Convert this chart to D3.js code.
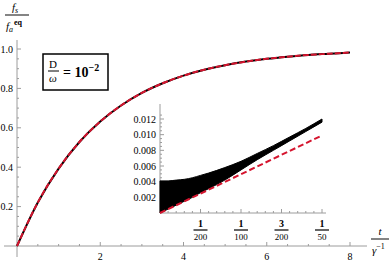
<!DOCTYPE html>
<html>
<head>
<meta charset="utf-8">
<script src="https://cdn.jsdelivr.net/npm/d3@7"></script>
<style>
  body { margin: 0; background: #fff; }
  svg { display: block; font-family: "Liberation Serif", "DejaVu Serif", serif; }
</style>
</head>
<body>
<svg id="chart" width="390" height="265"></svg>
<script>
// hlavni krivka f_s / f_a^eq
var casy = [0, 0.5, 1, 1.5, 2, 2.5, 3, 3.5, 4, 4.5, 5, 5.5, 6, 6.5, 7, 7.5, 8]
var hodnoty = [0, 0.221, 0.393, 0.528, 0.632, 0.713, 0.777, 0.826, 0.865, 0.895, 0.918, 0.936, 0.950, 0.961, 0.970, 0.976, 0.982]
var xTicks = [2, 4, 6, 8]
var yTicks = [0.2, 0.4, 0.6, 0.8, 1.0]

// vlozeny graf - obalka oscilaci a primka
var casyVl = [0, 0.001, 0.002, 0.003, 0.004, 0.005, 0.006, 0.008, 0.010, 0.012, 0.014, 0.016, 0.018, 0.020]
var horni = [0.0041, 0.0041, 0.0042, 0.0043, 0.0045, 0.0048, 0.0051, 0.0058, 0.0066, 0.0076, 0.0086, 0.0097, 0.0108, 0.0120]
var dolni = [0, 0.0005, 0.0010, 0.0015, 0.0020, 0.0026, 0.0031, 0.0042, 0.0055, 0.0068, 0.0080, 0.0092, 0.0104, 0.0116]
var primkaT = [0, 0.020]
var primkaY = [0, 0.0099]
var xTicksVl = [0.005, 0.01, 0.015, 0.02]
var xLabelsVl = [["1", "200"], ["1", "100"], ["3", "200"], ["1", "50"]]
var yTicksVl = [0.002, 0.004, 0.006, 0.008, 0.010, 0.012]

var cervena = "#d5142e"
var osa = "#9c9c9c"
var svg = d3.select("#chart")

var x = d3.scaleLinear().domain([0, 8]).range([17, 350])
var y = d3.scaleLinear().domain([0, 1]).range([246, 49])

// osy
svg.append("line").attr("x1", 4).attr("x2", 367).attr("y1", y(0)).attr("y2", y(0)).attr("stroke", osa)
svg.append("line").attr("x1", x(0)).attr("x2", x(0)).attr("y1", 257).attr("y2", 40).attr("stroke", osa)

// minor ticks
var g = svg.append("g")
d3.range(0.5, 8.01, 0.5).forEach(function(d) {
  var maj = xTicks.indexOf(d) >= 0
  g.append("line").attr("x1", x(d)).attr("x2", x(d)).attr("y1", y(0)).attr("y2", y(0) - (maj ? 4 : 2)).attr("stroke", osa)
})
d3.range(0.05, 1.001, 0.05).forEach(function(d) {
  var maj = yTicks.some(function(t) { return Math.abs(t - d) < 1e-6 })
  g.append("line").attr("x1", x(0)).attr("x2", x(0) + (maj ? 4 : 2)).attr("y1", y(d)).attr("y2", y(d)).attr("stroke", osa)
})
svg.selectAll("text.xt").data(xTicks).enter().append("text")
  .attr("x", function(d) { return x(d) }).attr("y", 260)
  .attr("text-anchor", "middle").attr("font-size", 10).text(function(d) { return d })
svg.selectAll("text.yt").data(yTicks).enter().append("text")
  .attr("x", 13).attr("y", function(d) { return y(d) + 3.5 })
  .attr("text-anchor", "end").attr("font-size", 10).text(function(d) { return d.toFixed(1) })

// popisky os
var lx = svg.append("g")
lx.append("text").attr("x", 380).attr("y", 235).attr("text-anchor", "middle").attr("font-size", 11).attr("font-style", "italic").text("t")
lx.append("line").attr("x1", 371).attr("x2", 389).attr("y1", 239).attr("y2", 239).attr("stroke", "#333").attr("stroke-width", 1.2)
var gam = lx.append("text").attr("x", 372).attr("y", 254).attr("font-size", 11)
gam.append("tspan").attr("font-style", "italic").text("γ")
gam.append("tspan").attr("font-size", 8).attr("dy", -5).text("−1")

var ly = svg.append("g")
var fs = ly.append("text").attr("x", 12).attr("y", 11).attr("font-size", 11)
fs.append("tspan").attr("font-style", "italic").text("f")
fs.append("tspan").attr("font-size", 8).attr("dy", 2).attr("font-style", "italic").text("s")
ly.append("line").attr("x1", 5).attr("x2", 29).attr("y1", 15).attr("y2", 15).attr("stroke", "#333").attr("stroke-width", 1.2)
var fa = ly.append("text").attr("x", 6).attr("y", 30).attr("font-size", 11)
fa.append("tspan").attr("font-style", "italic").text("f")
fa.append("tspan").attr("font-size", 8).attr("dy", 2).attr("font-style", "italic").text("a")
fa.append("tspan").attr("font-size", 8).attr("dy", -7).attr("font-weight", "bold").attr("dx", 1).text("eq")

// hlavni krivka: cerna plna + cervena carkovana
var body = casy.map(function(t, i) { return [t, hodnoty[i]] })
var cara = d3.line().x(function(d) { return x(d[0]) }).y(function(d) { return y(d[1]) }).curve(d3.curveMonotoneX)
svg.append("path").attr("d", cara(body)).attr("fill", "none").attr("stroke", "#000").attr("stroke-width", 2)
svg.append("path").attr("d", cara(body)).attr("fill", "none").attr("stroke", cervena).attr("stroke-width", 2).attr("stroke-dasharray", "6,2")

// ramecek s D/omega
var box = svg.append("g")
box.append("rect").attr("x", 43).attr("y", 54).attr("width", 65).attr("height", 36).attr("fill", "#fff").attr("stroke", "#000").attr("stroke-width", 1.5)
box.append("text").attr("x", 53).attr("y", 68).attr("text-anchor", "middle").attr("font-size", 11).text("D")
box.append("line").attr("x1", 48).attr("x2", 59).attr("y1", 71).attr("y2", 71).attr("stroke", "#000").attr("stroke-width", 1)
box.append("text").attr("x", 53).attr("y", 82).attr("text-anchor", "middle").attr("font-size", 11).attr("font-style", "italic").text("ω")
var rov = box.append("text").attr("x", 63).attr("y", 77).attr("font-size", 14).attr("font-weight", "bold")
rov.append("tspan").text("= 10")
rov.append("tspan").attr("font-size", 10).attr("dy", -6).text("−2")

// vlozeny graf
var xi = d3.scaleLinear().domain([0, 0.02]).range([160, 322])
var yi = d3.scaleLinear().domain([0, 0.012]).range([213, 119])
var vl = svg.append("g")
vl.append("line").attr("x1", 160).attr("x2", 326).attr("y1", yi(0)).attr("y2", yi(0)).attr("stroke", osa)
vl.append("line").attr("x1", 160).attr("x2", 160).attr("y1", yi(0)).attr("y2", 104).attr("stroke", osa)
d3.range(0.001, 0.0205, 0.001).forEach(function(d) {
  var maj = Math.round(d * 1000) % 5 == 0
  vl.append("line").attr("x1", xi(d)).attr("x2", xi(d)).attr("y1", yi(0)).attr("y2", yi(0) - (maj ? 4 : 2)).attr("stroke", osa)
})
d3.range(0.0005, 0.01251, 0.0005).forEach(function(d) {
  var maj = Math.round(d * 10000) % 20 == 0
  vl.append("line").attr("x1", 160).attr("x2", 160 + (maj ? 4 : 2)).attr("y1", yi(d)).attr("y2", yi(d)).attr("stroke", osa)
})
vl.selectAll("text.yv").data(yTicksVl).enter().append("text")
  .attr("x", 156).attr("y", function(d) { return yi(d) + 3.5 })
  .attr("text-anchor", "end").attr("font-size", 10).text(function(d) { return d.toFixed(3) })
xTicksVl.forEach(function(d, i) {
  vl.append("text").attr("x", xi(d)).attr("y", 227).attr("text-anchor", "middle").attr("font-size", 10).attr("font-weight", "bold").text(xLabelsVl[i][0])
  vl.append("line").attr("x1", xi(d) - 7).attr("x2", xi(d) + 7).attr("y1", 230).attr("y2", 230).attr("stroke", "#000").attr("stroke-width", 1.2)
  vl.append("text").attr("x", xi(d)).attr("y", 240).attr("text-anchor", "middle").attr("font-size", 9).text(xLabelsVl[i][1])
})

var obalka = d3.area().x(function(d, i) { return xi(casyVl[i]) })
  .y0(function(d, i) { return yi(dolni[i]) }).y1(function(d, i) { return yi(horni[i]) })
  .curve(d3.curveMonotoneX)
vl.append("path").attr("d", obalka(casyVl)).attr("fill", "#000").attr("stroke", "#000").attr("stroke-width", 1)
var prim = d3.line().x(function(d, i) { return xi(primkaT[i]) }).y(function(d, i) { return yi(primkaY[i]) })
vl.append("path").attr("d", prim(primkaT)).attr("fill", "none").attr("stroke", cervena).attr("stroke-width", 2).attr("stroke-dasharray", "6,3")
</script>
</body>
</html>
